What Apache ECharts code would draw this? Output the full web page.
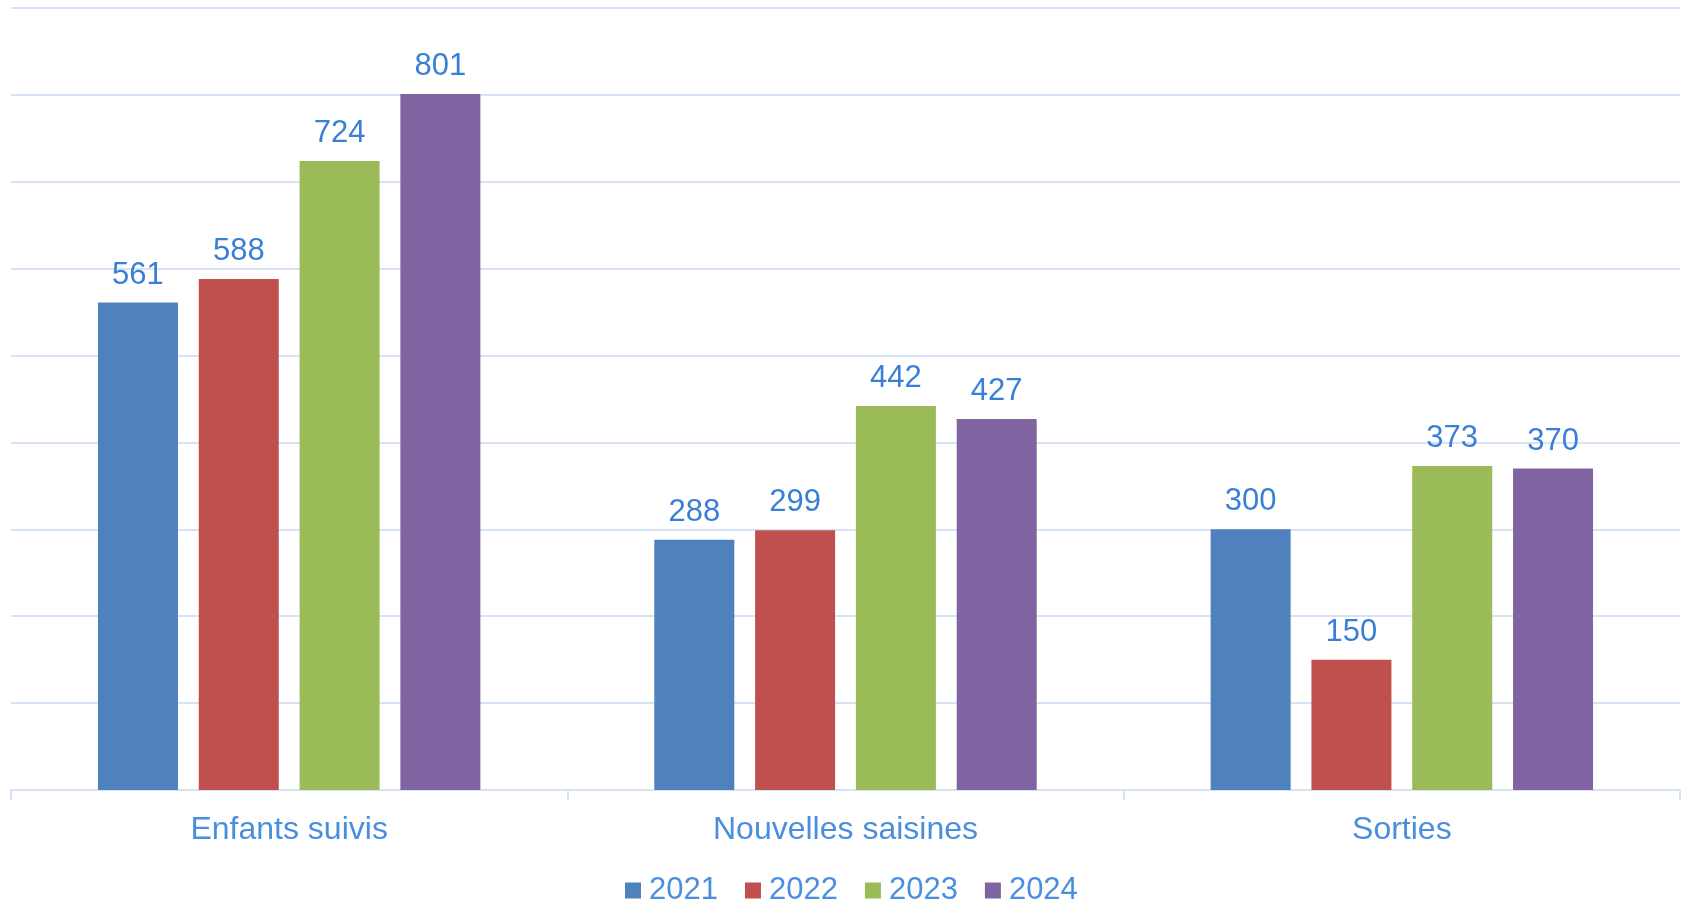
<!DOCTYPE html>
<html>
<head>
<meta charset="utf-8">
<script src="https://cdn.jsdelivr.net/npm/echarts@6/dist/echarts.min.js"></script>
<style>
html,body{margin:0;padding:0;background:#fff;}
#c{width:1685px;height:904px;}
</style>
</head>
<body>
<div id="c"></div>
<script>
const categories = ['Enfants suivis', 'Nouvelles saisines', 'Sorties'];
const seriesNames = ['2021', '2022', '2023', '2024'];
const values2021 = [561, 288, 300];
const values2022 = [588, 299, 150];
const values2023 = [724, 442, 373];
const values2024 = [801, 427, 370];
const colors = ['#4F81BD', '#C0504D', '#9BBB59', '#8064A2'];

const allValues = [values2021, values2022, values2023, values2024];
const font = 'Liberation Sans, Arial, sans-serif';

const chart = echarts.init(document.getElementById('c'));
chart.setOption({
  animation: false,
  backgroundColor: '#ffffff',
  grid: { left: 11, right: 5, top: 8, bottom: 114, containLabel: false },
  legend: {
    data: seriesNames,
    bottom: -7,
    left: 620,
    itemWidth: 16,
    itemHeight: 16,
    itemGap: 27,
    icon: 'rect',
    textStyle: { fontSize: 31, color: '#4A8EDD', fontFamily: font, padding: [0, 0, 0, 3] }
  },
  xAxis: {
    type: 'category',
    data: categories,
    axisLine: { lineStyle: { color: '#D6E3F5', width: 2 } },
    axisTick: { show: true, length: 10, lineStyle: { color: '#D6E3F5', width: 2 } },
    axisLabel: { fontSize: 32, color: '#4A8EDD', fontFamily: font, margin: 24 }
  },
  yAxis: {
    type: 'value',
    min: 0,
    max: 900,
    interval: 100,
    axisLabel: { show: false },
    axisLine: { show: false },
    axisTick: { show: false },
    splitLine: { lineStyle: { color: '#D6E3F5', width: 2 } }
  },
  series: allValues.map((vals, i) => ({
    name: seriesNames[i],
    type: 'bar',
    data: vals,
    barWidth: 80,
    barGap: '26%',
    itemStyle: { color: colors[i] },
    label: {
      show: true,
      position: 'top',
      distance: 12,
      fontSize: 31,
      color: '#3A7FD6',
      fontFamily: font
    }
  }))
});
</script>
</body>
</html>
